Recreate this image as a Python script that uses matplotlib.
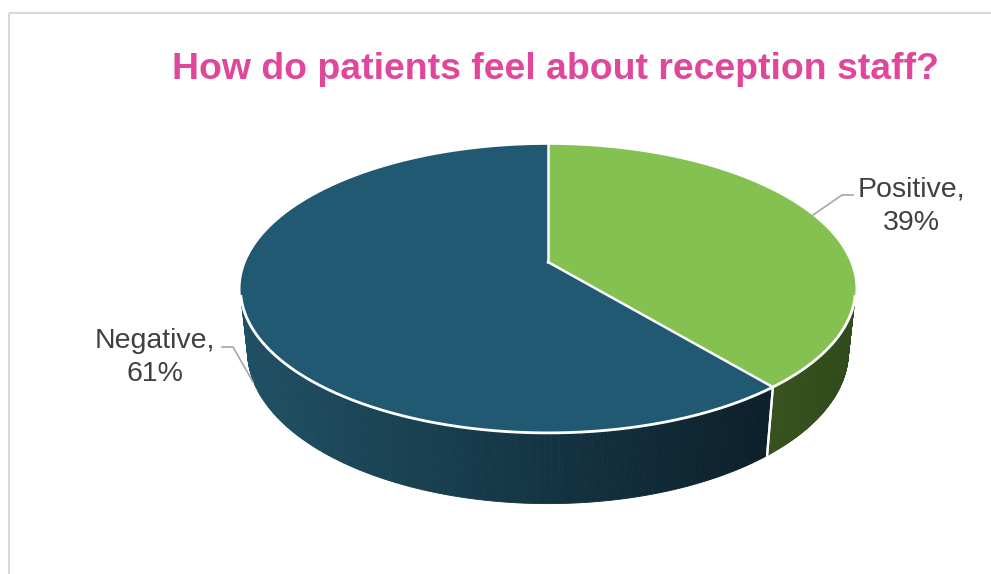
import numpy as np
import matplotlib.pyplot as plt
from matplotlib.patches import Polygon
import matplotlib.colors as mcolors

categories = ["Positive", "Negative"]
values = [39, 61]
title = "How do patients feel about reception staff?"
top_colors = ["#84c151", "#215872"]
side_left = ["#38531f", "#1f5064"]
side_right = ["#304a1b", "#0c1f2a"]

fig = plt.figure(figsize=(9.91, 5.74), dpi=100)
ax = fig.add_axes([0, 0, 1, 1])
ax.set_xlim(0, 991)
ax.set_ylim(574, 0)
ax.axis('off')

# frame lines
ax.plot([9, 991], [13, 13], color="#d9d9d9", lw=1.5, solid_capstyle='butt')
ax.plot([9, 9], [13, 574], color="#d9d9d9", lw=1.5, solid_capstyle='butt')

# perspective projection
CX, CY = 548, 262
D = 4.76
elev = np.radians(27.4)
F = 1438
H = 0.235


def proj(t, z=0.0):
    X = np.sin(t)
    Y = np.cos(t)
    d = D + Y * np.cos(elev) - z * np.sin(elev)
    sx = F * X / d
    sy = F * (Y * np.sin(elev) + z * np.cos(elev)) / d
    return CX + sx, CY - sy


total = float(sum(values))
bounds = np.concatenate([[0], np.cumsum(values) / total]) * 2 * np.pi
t_lo = np.arccos(-1.0 / (D * np.cos(elev)))
t_hi = 2 * np.pi - t_lo

# sides
for i in range(len(values)):
    a, b = bounds[i], bounds[i + 1]
    lo, hi = max(a, t_lo), min(b, t_hi)
    if hi <= lo:
        continue
    ts = np.linspace(lo, hi, 200)
    xs_all = [proj(t)[0] for t in ts]
    xmin, xmax = min(xs_all), max(xs_all)
    c1 = np.array(mcolors.to_rgb(side_left[i]))
    c2 = np.array(mcolors.to_rgb(side_right[i]))
    for j in range(len(ts) - 1):
        t0, t1 = ts[j], ts[j + 1]
        p = [proj(t0), proj(t1), proj(t1, -H), proj(t0, -H)]
        xm = (p[0][0] + p[1][0]) / 2
        f = (xm - xmin) / (xmax - xmin + 1e-9)
        c = c1 + (c2 - c1) * f
        ax.add_patch(Polygon(p, closed=True, facecolor=c, edgecolor=c, lw=0.6))
    for tb in (a, b):
        if t_lo < tb % (2 * np.pi) < t_hi:
            x0, y0 = proj(tb)
            x1, y1 = proj(tb, -H)
            ax.plot([x0, x1], [y0, y1], color="white", lw=1.6, zorder=5)

# tops
for i in range(len(values)):
    a, b = bounds[i], bounds[i + 1]
    ts = np.linspace(a, b, 300)
    pts = [(CX, CY)] + [proj(t) for t in ts]
    ax.add_patch(Polygon(pts, closed=True, facecolor=top_colors[i],
                         edgecolor="none", zorder=6))
for tb in bounds[:-1]:
    x, y = proj(tb)
    ax.plot([CX, x], [CY, y], color="white", lw=1.8, zorder=7)
ts = np.linspace(t_lo, t_hi, 400)
rim = np.array([proj(t) for t in ts])
ax.plot(rim[:, 0], rim[:, 1], color="white", lw=2.0, zorder=7)

# title
ax.text(555, 79, title, color="#e0479a", fontsize=26.9, fontweight='bold',
        family="Liberation Sans", ha='center', va='baseline')

# labels
lab_kw = dict(color="#404040", fontsize=20.5, family="Liberation Sans",
              ha='center', va='baseline')
ax.text(911, 197, f"{categories[0]},", **lab_kw)
ax.text(911, 230, f"{values[0]}%", **lab_kw)
ax.text(155, 348, f"{categories[1]},", **lab_kw)
ax.text(155, 381, f"{values[1]}%", **lab_kw)

lc = "#a6a6a6"
ax.plot([813, 842, 853], [215, 195, 195], color=lc, lw=1.2, zorder=8)
ax.plot([222, 233, 253], [347, 347, 382], color=lc, lw=1.2, zorder=8)

fig.savefig("out.png", dpi=100, facecolor="white")
